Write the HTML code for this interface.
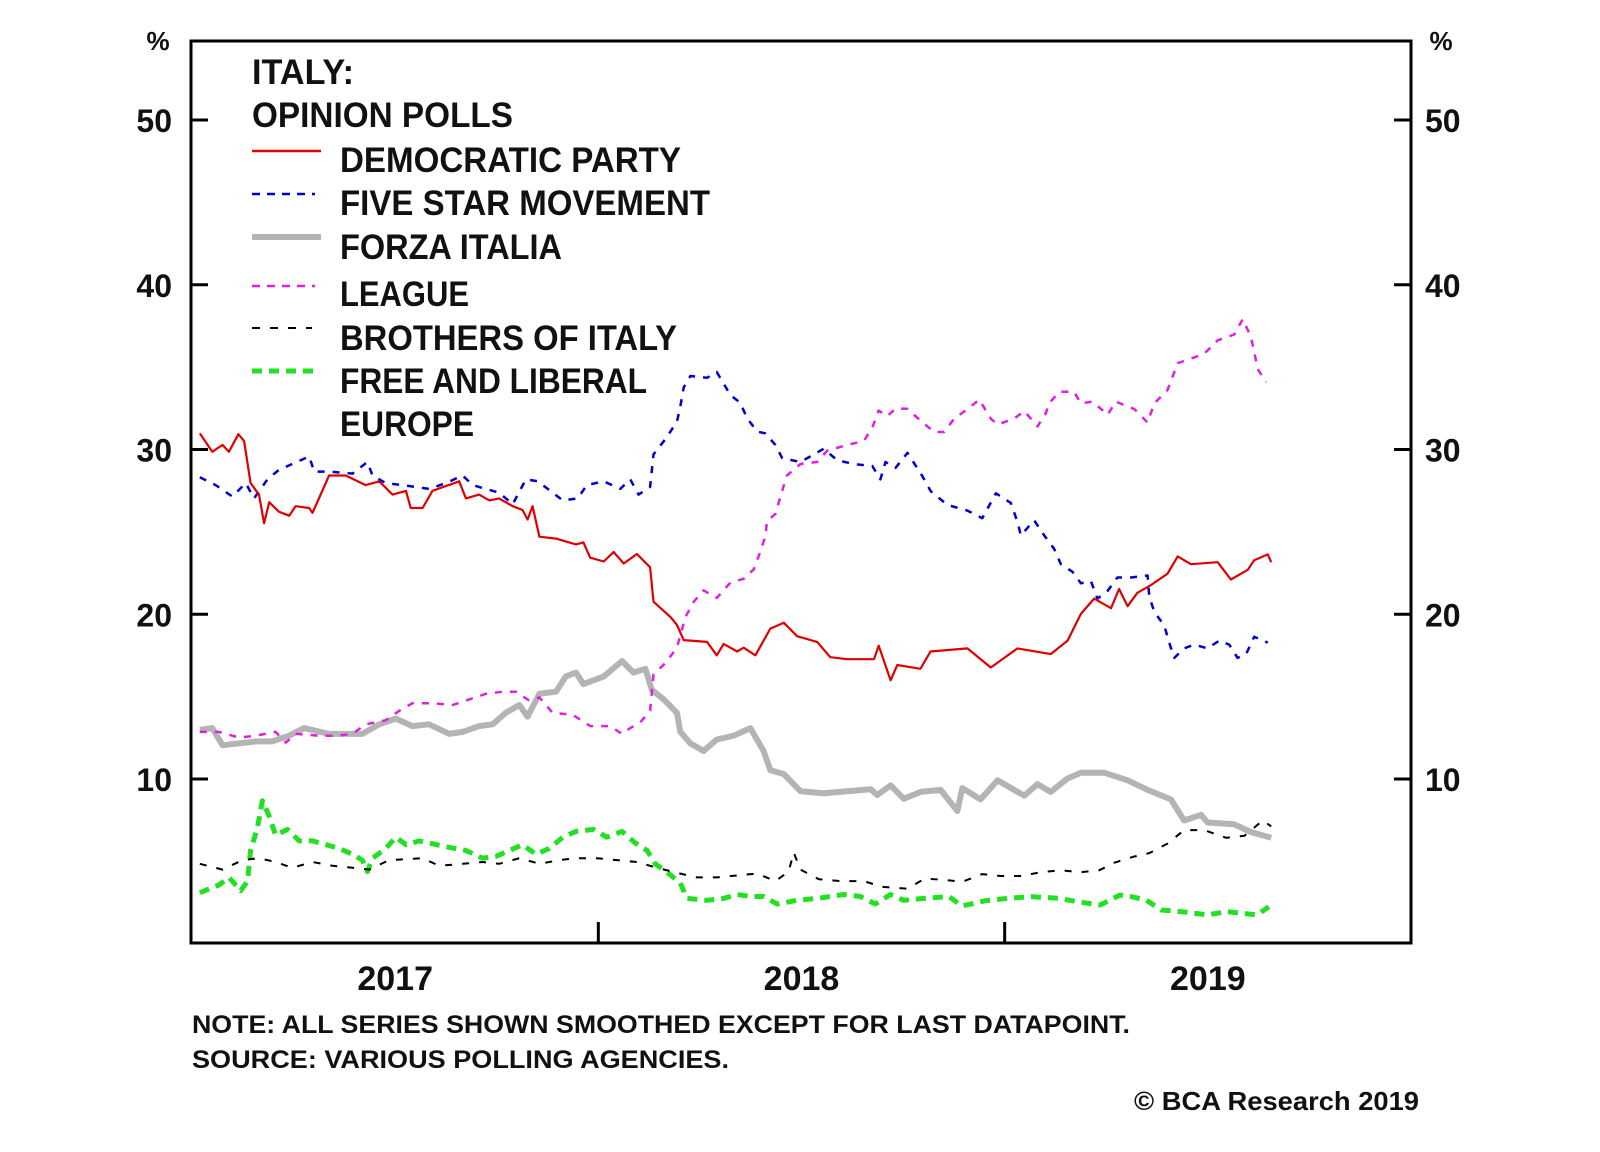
<!DOCTYPE html>
<html><head><meta charset="utf-8"><style>
html,body{margin:0;padding:0;background:#fff;}
svg{display:block;font-family:"Liberation Sans",Arial,sans-serif;font-weight:bold;}
</style></head><body>
<svg id="chart" width="1600" height="1152" viewBox="0 0 1600 1152" xmlns="http://www.w3.org/2000/svg">
<rect x="0" y="0" width="1600" height="1152" fill="#fff"/>
<g id="series"></g>
<rect x="191" y="41" width="1220" height="902" fill="none" stroke="#000" stroke-width="3"/>
<g id="axes"></g>
<text x="158" y="50" font-size="26" text-anchor="middle" fill="#111">%</text>
<text x="1441" y="50" font-size="26" text-anchor="middle" fill="#111">%</text>
<g font-size="35" fill="#111">
<text x="252" y="84" textLength="102" lengthAdjust="spacingAndGlyphs">ITALY:</text>
<text x="252" y="127" textLength="261" lengthAdjust="spacingAndGlyphs">OPINION POLLS</text>
<line x1="252" y1="151" x2="321" y2="151" stroke="#e00000" stroke-width="2.5"/>
<text x="340" y="172" textLength="341" lengthAdjust="spacingAndGlyphs">DEMOCRATIC PARTY</text>
<line x1="252" y1="194" x2="315" y2="194" stroke="#0000cc" stroke-width="2.5" stroke-dasharray="8,7"/>
<text x="340" y="215" textLength="370" lengthAdjust="spacingAndGlyphs">FIVE STAR MOVEMENT</text>
<line x1="252" y1="237" x2="321" y2="237" stroke="#b4b4b4" stroke-width="6"/>
<text x="340" y="259" textLength="222" lengthAdjust="spacingAndGlyphs">FORZA ITALIA</text>
<line x1="252" y1="286" x2="315" y2="286" stroke="#e020e0" stroke-width="2.5" stroke-dasharray="8,7"/>
<text x="340" y="306" textLength="129" lengthAdjust="spacingAndGlyphs">LEAGUE</text>
<line x1="252" y1="328" x2="312" y2="328" stroke="#000" stroke-width="2" stroke-dasharray="8,10"/>
<text x="340" y="350" textLength="337" lengthAdjust="spacingAndGlyphs">BROTHERS OF ITALY</text>
<line x1="252" y1="371" x2="315" y2="371" stroke="#22e022" stroke-width="5" stroke-dasharray="10,7"/>
<text x="340" y="393" textLength="307" lengthAdjust="spacingAndGlyphs">FREE AND LIBERAL</text>
<text x="340" y="436" textLength="134" lengthAdjust="spacingAndGlyphs">EUROPE</text>
</g>
<text x="192" y="1033" font-size="25" fill="#111" textLength="938" lengthAdjust="spacingAndGlyphs">NOTE: ALL SERIES SHOWN SMOOTHED EXCEPT FOR LAST DATAPOINT.</text>
<text x="192" y="1068" font-size="25" fill="#111" textLength="537" lengthAdjust="spacingAndGlyphs">SOURCE: VARIOUS POLLING AGENCIES.</text>
<text x="1134" y="1110" font-size="26" fill="#111" textLength="285" lengthAdjust="spacingAndGlyphs">© BCA Research 2019</text>
</svg>
<script>
// months since Jan 2017 / values in %
const demT=[0.23,0.6,0.9,1.09,1.37,1.54,1.73,1.98,2.13,2.28,2.57,2.87,3.06,3.46,3.56,4.05,4.54,5.13,5.53,5.92,6.32,6.46,6.81,7.1,7.89,8.09,8.48,8.78,9.07,9.47,9.76,9.91,10.06,10.26,10.75,11.34,11.56,11.76,12.16,12.45,12.75,13.14,13.53,13.63,14.13,14.32,14.52,15.21,15.5,15.7,16.1,16.29,16.64,17.08,17.48,17.87,18.46,18.85,19.35,20.14,20.28,20.63,20.83,21.51,21.81,22.9,23.59,24.38,25.36,25.86,26.25,26.64,27.14,27.38,27.63,27.92,28.32,28.81,29.11,29.5,30.29,30.68,31.18,31.37,31.77,31.87];
const demV=[30.98,29.86,30.28,29.86,30.93,30.51,27.96,27.26,25.52,26.8,26.22,25.98,26.56,26.45,26.15,28.42,28.42,27.84,28.07,27.26,27.49,26.45,26.45,27.49,28.07,27.03,27.26,26.91,27.03,26.56,26.33,25.75,26.56,24.71,24.59,24.24,24.36,23.43,23.2,23.78,23.08,23.66,22.85,20.76,19.83,19.36,18.43,18.32,17.51,18.2,17.74,17.97,17.51,19.13,19.48,18.67,18.32,17.39,17.27,17.27,18.09,15.99,16.92,16.69,17.74,17.93,16.77,17.93,17.58,18.4,20.02,20.95,20.37,21.53,20.49,21.3,21.77,22.46,23.51,23.04,23.16,22.11,22.7,23.28,23.63,23.16];
const m5sT=[0.23,0.7,1.19,1.59,1.83,2.23,2.57,2.96,3.46,3.61,4.05,4.74,5.18,5.33,5.72,6.22,7.0,7.5,7.99,8.29,9.07,9.47,9.86,10.21,10.95,11.39,11.66,12.16,12.65,12.94,13.19,13.53,13.63,13.98,14.32,14.42,14.52,14.72,15.21,15.5,15.9,16.19,16.39,16.69,16.93,17.23,17.43,17.97,18.66,19.05,19.54,20.09,20.33,20.48,20.78,21.13,21.57,21.82,22.31,22.9,23.34,23.74,24.18,24.38,24.48,24.87,25.17,25.46,25.66,26.0,26.25,26.55,26.74,27.04,27.33,27.73,28.22,28.27,28.42,28.71,28.86,29.01,29.3,29.6,29.99,30.34,30.63,30.88,31.13,31.37,31.77];
const m5sV=[28.31,27.84,27.15,27.96,27.03,28.19,28.77,29.12,29.58,28.66,28.66,28.54,29.24,28.42,27.96,27.84,27.61,27.96,28.42,27.84,27.38,26.68,28.19,28.07,26.91,27.03,27.84,28.07,27.61,28.19,27.26,27.73,29.7,30.63,31.68,32.6,33.77,34.46,34.35,34.7,33.3,32.84,31.91,31.09,30.98,30.28,29.47,29.24,30.05,29.35,29.12,29.0,28.19,29.24,28.89,29.8,28.38,27.46,26.64,26.29,25.83,27.34,26.76,25.6,24.78,25.71,24.78,23.97,23.04,22.58,21.88,22.0,20.95,21.42,22.23,22.23,22.35,21.07,20.14,19.33,18.28,17.35,17.93,18.16,17.93,18.4,18.16,17.35,17.58,18.63,18.28];
const forzaT=[0.23,0.6,0.9,1.39,1.88,2.37,2.87,3.31,4.05,5.03,5.53,6.02,6.51,7.0,7.6,7.99,8.48,8.88,9.27,9.67,9.91,10.26,10.75,11.04,11.34,11.56,12.16,12.7,13.04,13.39,13.58,13.93,14.32,14.42,14.72,15.11,15.5,16.0,16.49,16.88,17.08,17.48,17.97,18.66,19.35,20.04,20.24,20.63,21.02,21.52,22.11,22.6,22.75,23.29,23.79,24.28,24.58,24.97,25.36,25.86,26.25,26.94,27.63,28.22,28.91,29.3,29.8,29.99,30.78,31.27,31.87];
const forzaV=[12.98,13.09,12.05,12.16,12.28,12.28,12.63,13.09,12.74,12.74,13.32,13.67,13.21,13.32,12.74,12.86,13.21,13.32,14.02,14.49,13.79,15.18,15.3,16.23,16.46,15.76,16.23,17.16,16.46,16.69,15.41,14.83,14.02,12.86,12.16,11.7,12.4,12.63,13.09,11.7,10.54,10.3,9.26,9.14,9.26,9.38,9.03,9.61,8.8,9.22,9.34,8.06,9.45,8.76,9.92,9.34,8.99,9.69,9.22,10.03,10.38,10.38,9.92,9.34,8.76,7.48,7.83,7.36,7.25,6.78,6.43];
const leagueT=[0.23,0.8,1.39,1.88,2.47,2.77,3.06,3.76,4.25,4.74,5.13,5.72,6.12,6.51,7.1,7.7,8.19,8.69,9.18,9.57,9.96,10.26,10.65,11.24,11.76,12.35,12.7,12.94,13.24,13.53,13.63,13.98,14.32,14.57,14.82,15.11,15.5,15.9,16.29,16.59,16.74,16.93,16.98,17.23,17.38,17.57,17.97,18.46,18.76,19.35,19.84,20.09,20.28,20.53,20.78,21.12,21.52,21.92,22.21,22.51,22.9,23.25,23.59,23.79,24.28,24.58,24.97,25.22,25.31,25.61,26.05,26.25,26.6,27.04,27.28,27.83,28.22,28.42,28.81,29.11,29.6,29.9,30.29,30.78,31.03,31.27,31.37,31.47,31.72];
const leagueV=[12.86,12.86,12.51,12.63,12.86,12.21,12.74,12.63,12.63,12.74,13.32,13.56,14.14,14.6,14.6,14.49,14.83,15.18,15.3,15.3,14.76,14.95,14.02,13.9,13.21,13.21,12.74,13.09,13.44,14.14,16.34,17.04,17.97,19.83,20.76,21.45,20.99,21.92,22.15,22.73,23.55,24.71,25.64,26.1,27.15,28.42,29.12,29.24,29.93,30.28,30.51,31.33,32.37,32.02,32.49,32.47,31.75,31.06,31.06,31.87,32.45,33.03,31.87,31.52,31.87,32.33,31.4,32.22,32.8,33.5,33.5,32.8,32.91,32.1,32.91,32.45,31.64,32.8,33.61,35.24,35.59,35.82,36.63,36.98,37.91,36.86,35.93,34.89,34.08];
const brosT=[0.23,0.9,1.49,1.98,2.47,2.96,3.56,4.15,4.74,5.23,5.82,6.81,7.3,7.99,8.58,9.07,9.67,10.26,10.85,11.34,11.96,12.55,13.14,13.73,14.42,14.91,15.5,16.1,16.69,17.23,17.62,17.77,17.97,18.51,19.15,19.84,20.38,21.12,21.64,22.21,22.75,23.34,23.88,24.48,25.07,25.66,26.25,26.79,27.24,27.78,28.27,28.81,29.3,29.9,30.54,31.08,31.62,31.87];
const brosV=[4.85,4.5,5.08,5.19,4.96,4.61,4.96,4.73,4.61,4.5,5.08,5.19,4.73,4.85,4.96,4.85,5.19,4.85,5.08,5.19,5.19,5.08,4.96,4.61,4.26,4.03,4.03,4.15,4.26,3.8,4.38,5.54,4.5,3.92,3.8,3.8,3.45,3.34,3.95,3.88,3.76,4.23,4.11,4.11,4.34,4.46,4.34,4.46,4.92,5.27,5.5,6.08,6.9,6.9,6.43,6.55,7.48,7.13];
const fleT=[0.23,0.8,1.09,1.44,1.64,1.73,1.93,2.08,2.28,2.47,2.82,3.17,3.56,3.96,4.35,4.74,5.03,5.18,5.33,5.72,6.02,6.32,6.71,7.5,8.09,8.58,8.98,9.37,9.76,10.16,10.55,10.95,11.34,11.86,12.25,12.7,13.09,13.44,13.68,14.08,14.42,14.62,15.21,15.7,16.1,16.49,16.88,17.28,17.87,18.46,19.25,19.74,20.18,20.63,21.02,21.61,22.35,22.74,23.4,24.11,24.78,25.59,26.15,26.82,27.4,27.73,28.18,28.63,29.2,29.99,30.56,31.01,31.46,31.8];
const fleV=[3.1,3.57,4.03,3.22,3.8,5.66,7.05,8.68,7.75,6.59,6.94,6.24,6.24,6.01,5.78,5.43,5.08,4.38,5.19,5.78,6.47,6.01,6.24,5.89,5.66,5.19,5.31,5.66,6.01,5.43,5.78,6.47,6.82,6.94,6.47,6.82,6.12,5.66,4.85,4.26,3.68,2.75,2.64,2.75,2.99,2.87,2.87,2.41,2.64,2.75,2.99,2.87,2.41,2.99,2.64,2.75,2.87,2.29,2.6,2.76,2.86,2.76,2.55,2.35,2.95,2.86,2.65,2.05,1.95,1.75,1.95,1.85,1.75,2.25];
const yTicks=[10,20,30,40,50];
const yearLabels=["2017","2018","2019"];
const yearStarts=[0,12,24,36];

const X0=192,X1=1411,Y0=943.75,PX_PER_UNIT=16.475;
function xScale(m){return X0+(X1-X0)*m/36;}
function yScale(v){return Y0-PX_PER_UNIT*v;}
const NS='http://www.w3.org/2000/svg';
const sg=document.getElementById('series');
const ag=document.getElementById('axes');

function drawLine(T,V,name,color,width,dash){
  const p=document.createElementNS(NS,'path');
  let d='';
  for(let i=0;i<T.length;i++){d+=(i?'L':'M')+xScale(T[i]).toFixed(1)+','+yScale(V[i]).toFixed(1);}
  p.setAttribute('d',d);
  p.setAttribute('fill','none');
  p.setAttribute('stroke',color);
  p.setAttribute('stroke-width',width);
  p.setAttribute('stroke-linejoin','round');
  if(dash)p.setAttribute('stroke-dasharray',dash);
  
  
  sg.appendChild(p);
}
drawLine(forzaT,forzaV,'forza-italia-line','#b4b4b4',6,null);
drawLine(fleT,fleV,'free-liberal-europe-line','#22e022',5,'10,7');
drawLine(brosT,brosV,'brothers-of-italy-line','#000',2,'7,10');
drawLine(leagueT,leagueV,'league-line','#e020e0',2.5,'7,8');
drawLine(m5sT,m5sV,'five-star-line','#0000cc',2.5,'7,8');
drawLine(demT,demV,'democratic-party-line','#e00000',2.2,null);

yTicks.forEach(v=>{
  const y=yScale(v);
  const l=document.createElementNS(NS,'line');
  l.setAttribute('x1',191);l.setAttribute('x2',208);l.setAttribute('y1',y);l.setAttribute('y2',y);
  l.setAttribute('stroke','#000');l.setAttribute('stroke-width',3);
  
  
  ag.appendChild(l);
  const r=document.createElementNS(NS,'line');
  r.setAttribute('x1',1394);r.setAttribute('x2',1411);r.setAttribute('y1',y);r.setAttribute('y2',y);
  r.setAttribute('stroke','#000');r.setAttribute('stroke-width',3);
  
  
  ag.appendChild(r);
  const t=document.createElementNS(NS,'text');
  t.setAttribute('x',172);t.setAttribute('y',y+12);t.setAttribute('text-anchor','end');
  t.setAttribute('font-size','32');t.setAttribute('fill','#111');
  t.textContent=String(v);
  
  
  ag.appendChild(t);
  const t2=document.createElementNS(NS,'text');
  t2.setAttribute('x',1425);t2.setAttribute('y',y+12);
  t2.setAttribute('font-size','32');t2.setAttribute('fill','#111');
  t2.textContent=String(v);
  
  
  ag.appendChild(t2);
});
[12,24].forEach(m=>{
  const x=xScale(m);
  const l=document.createElementNS(NS,'line');
  l.setAttribute('x1',x);l.setAttribute('x2',x);l.setAttribute('y1',922);l.setAttribute('y2',943);
  l.setAttribute('stroke','#000');l.setAttribute('stroke-width',3);
  
  
  ag.appendChild(l);
});
yearLabels.forEach((lab,i)=>{
  const x=(xScale(yearStarts[i])+xScale(yearStarts[i+1]))/2;
  const t=document.createElementNS(NS,'text');
  t.setAttribute('x',x);t.setAttribute('y',990);t.setAttribute('text-anchor','middle');
  t.setAttribute('font-size','34');t.setAttribute('fill','#111');
  t.textContent=lab;
  
  
  ag.appendChild(t);
});
</script>
</body></html>
